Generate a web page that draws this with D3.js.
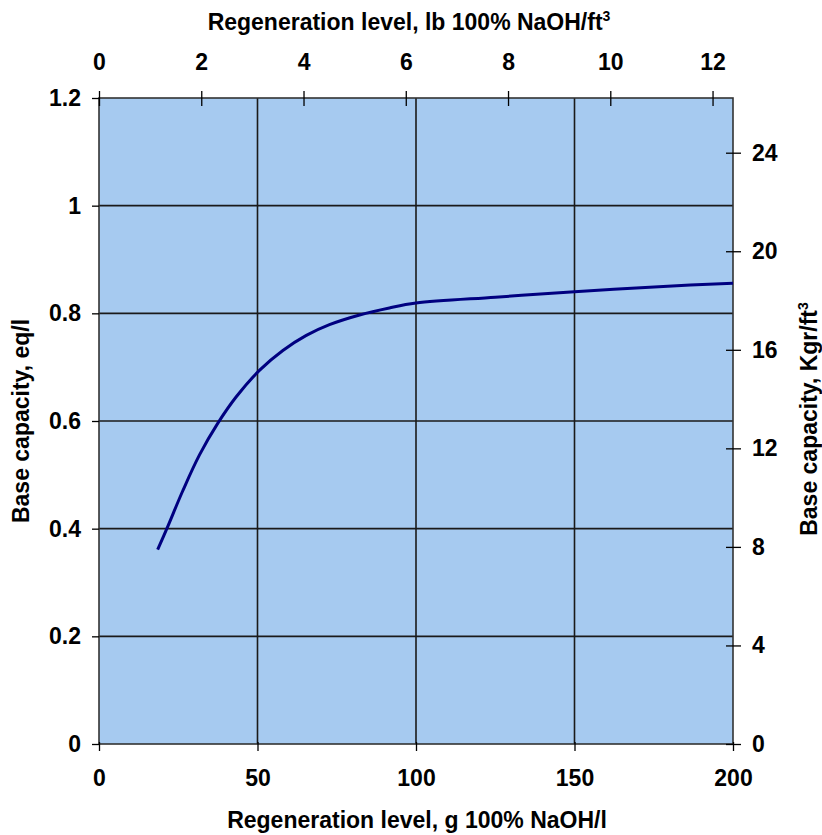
<!DOCTYPE html>
<html>
<head>
<meta charset="utf-8">
<script src="https://cdn.jsdelivr.net/npm/d3@7"></script>
<style>
  body { margin: 0; background: #fff; }
  text { font-family: "Liberation Sans", Arial, sans-serif; font-weight: bold; fill: #000; }
</style>
</head>
<body>
<div id="vis"></div>
<script>
const FRAME_WIDTH = 822;
const FRAME_HEIGHT = 835;
const MARGINS = {left: 99, right: 89, top: 98, bottom: 91};

// curve
const regenGL = [18.5, 21.4, 26.4, 31.7, 37.5, 43.3, 50.6, 58, 65.4, 72.7, 82.2, 91.6, 100, 125, 150, 178, 200];
const capacityEqL = [0.361, 0.400, 0.470, 0.537, 0.596, 0.645, 0.694, 0.731, 0.759, 0.779, 0.797, 0.810, 0.819, 0.830, 0.840, 0.850, 0.856];

// tick labels
const bottomTicks = [0, 50, 100, 150, 200];
const topTicks = [0, 2, 4, 6, 8, 10, 12];
const leftTicks = [0, 0.2, 0.4, 0.6, 0.8, 1, 1.2];
const rightTicks = [0, 4, 8, 12, 16, 20, 24];

const VIS_WIDTH = FRAME_WIDTH - MARGINS.left - MARGINS.right;
const VIS_HEIGHT = FRAME_HEIGHT - MARGINS.top - MARGINS.bottom;

const FRAME = d3.select('#vis')
  .append('svg')
    .attr('width', FRAME_WIDTH)
    .attr('height', FRAME_HEIGHT);

// scales
const X_SCALE = d3.scaleLinear().domain([0, 200]).range([0, VIS_WIDTH]);
const X_TOP = d3.scaleLinear().domain([0, 12.4]).range([0, VIS_WIDTH]);
const Y_SCALE = d3.scaleLinear().domain([0, 1.2]).range([VIS_HEIGHT, 0]);
const Y_RIGHT = d3.scaleLinear().domain([0, 1.2 * 21.85]).range([VIS_HEIGHT, 0]);

const G = FRAME.append('g')
  .attr('transform', 'translate(' + MARGINS.left + ',' + MARGINS.top + ')');

// plot background
G.append('rect')
  .attr('width', VIS_WIDTH)
  .attr('height', VIS_HEIGHT)
  .attr('fill', '#a6caf0');

// grid lines
G.selectAll('.hgrid')
  .data(leftTicks.slice(1, -1))
  .enter()
  .append('line')
    .attr('x1', 0).attr('x2', VIS_WIDTH)
    .attr('y1', d => Y_SCALE(d)).attr('y2', d => Y_SCALE(d))
    .attr('stroke', '#1a1a1a').attr('stroke-width', 1.6);

G.selectAll('.vgrid')
  .data(bottomTicks.slice(1, -1))
  .enter()
  .append('line')
    .attr('x1', d => X_SCALE(d)).attr('x2', d => X_SCALE(d))
    .attr('y1', 0).attr('y2', VIS_HEIGHT)
    .attr('stroke', '#1a1a1a').attr('stroke-width', 1.6);

// border
G.append('rect')
  .attr('width', VIS_WIDTH)
  .attr('height', VIS_HEIGHT)
  .attr('fill', 'none')
  .attr('stroke', '#333')
  .attr('stroke-width', 1.6);

// curve
const line = d3.line()
  .x((d, i) => X_SCALE(regenGL[i]))
  .y(d => Y_SCALE(d))
  .curve(d3.curveCatmullRom.alpha(0.5));

G.append('path')
  .datum(capacityEqL)
  .attr('d', line)
  .attr('fill', 'none')
  .attr('stroke', '#000080')
  .attr('stroke-width', 3);

// axes
function styleAxis(sel) {
  sel.select('.domain').remove();
  sel.selectAll('.tick line').attr('stroke', '#000').attr('stroke-width', 1.3);
  sel.selectAll('.tick text')
    .attr('font-size', 23)
    .attr('font-family', '"Liberation Sans", Arial, sans-serif')
    .attr('font-weight', 'bold')
    .attr('fill', '#000');
}

const bottomAxis = G.append('g')
  .attr('transform', 'translate(0,' + VIS_HEIGHT + ')')
  .call(d3.axisBottom(X_SCALE).tickValues(bottomTicks).tickSize(7).tickPadding(19));
styleAxis(bottomAxis);
bottomAxis.selectAll('.tick line').attr('y1', -2);

const topAxis = G.append('g')
  .call(d3.axisTop(X_TOP).tickValues(topTicks).tickSize(7).tickPadding(21));
styleAxis(topAxis);
topAxis.selectAll('.tick line').attr('y1', 8);

const leftAxis = G.append('g')
  .call(d3.axisLeft(Y_SCALE).tickValues(leftTicks).tickSize(7).tickPadding(11)
    .tickFormat(d3.format('~g')));
styleAxis(leftAxis);

const rightAxis = G.append('g')
  .attr('transform', 'translate(' + VIS_WIDTH + ',0)')
  .call(d3.axisRight(Y_RIGHT).tickValues(rightTicks).tickSize(8).tickPadding(11));
styleAxis(rightAxis);
rightAxis.selectAll('.tick line').attr('x1', -7);

// axis titles
FRAME.append('text')
  .attr('x', 417)
  .attr('y', 828)
  .attr('text-anchor', 'middle')
  .attr('font-size', 23)
  .text('Regeneration level, g 100% NaOH/l');

const topTitle = FRAME.append('text')
  .attr('x', 409)
  .attr('y', 30)
  .attr('text-anchor', 'middle')
  .attr('font-size', 23)
  .text('Regeneration level, lb 100% NaOH/ft');
topTitle.append('tspan')
  .attr('font-size', 14)
  .attr('dy', -9)
  .text('3');

FRAME.append('text')
  .attr('transform', 'translate(29,' + (MARGINS.top + VIS_HEIGHT / 2) + ') rotate(-90)')
  .attr('text-anchor', 'middle')
  .attr('font-size', 23)
  .text('Base capacity, eq/l');

const rightTitle = FRAME.append('text')
  .attr('transform', 'translate(817,' + (MARGINS.top + VIS_HEIGHT / 2 - 2) + ') rotate(-90)')
  .attr('text-anchor', 'middle')
  .attr('font-size', 23)
  .text('Base capacity, Kgr/ft');
rightTitle.append('tspan')
  .attr('font-size', 14)
  .attr('dy', -9)
  .text('3');
</script>
</body>
</html>
